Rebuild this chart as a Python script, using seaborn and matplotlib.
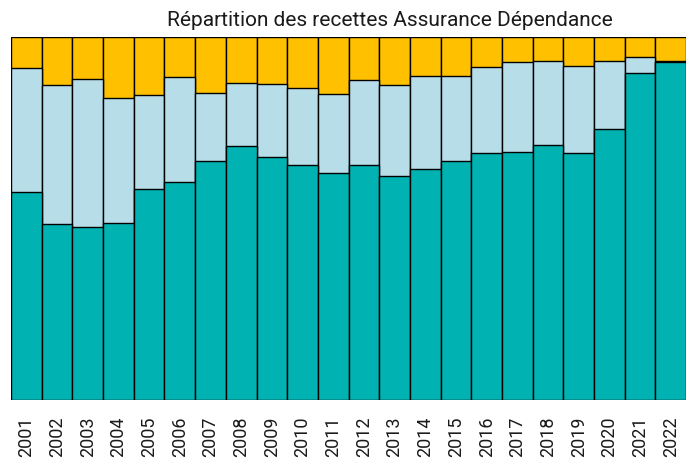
import numpy as np
import pandas as pd
import matplotlib
matplotlib.use("Agg")
import matplotlib.pyplot as plt
import seaborn as sns

years = [str(y) for y in range(2001, 2023)]
# shares in % (bottom / middle / top)
part_teal = [57.4, 48.4, 47.7, 48.8, 58.1, 60.1, 65.8, 70.0, 67.0, 64.8, 62.5,
             64.7, 61.7, 63.8, 65.8, 68.2, 68.3, 70.2, 68.2, 74.7, 90.0, 93.2]
part_blue = [34.0, 38.3, 40.9, 34.3, 26.1, 28.8, 18.9, 17.5, 20.1, 21.2, 21.9,
             23.5, 25.2, 25.6, 23.4, 23.5, 24.8, 23.2, 23.8, 18.7, 4.6, 0.3]
part_orange = [8.6, 13.3, 11.4, 16.9, 15.8, 11.1, 15.3, 12.5, 12.9, 14.0, 15.6,
               11.8, 13.1, 10.6, 10.8, 8.3, 6.9, 6.6, 8.0, 6.6, 5.4, 6.5]

df = pd.DataFrame({"annee": years, "teal": part_teal, "blue": part_blue, "orange": part_orange})
df["cum_blue"] = df["teal"] + df["blue"]
df["cum_orange"] = df["cum_blue"] + df["orange"]

sns.set_style("white")
plt.rcParams["font.family"] = ["Roboto", "DejaVu Sans"]

fig = plt.figure(figsize=(6.93, 4.59), dpi=100)
ax = fig.add_axes([0.016, 0.1285, 0.974, 0.7905])

bar_kw = dict(width=1, edgecolor="black", linewidth=1, saturation=1, ax=ax)
sns.barplot(data=df, x="annee", y="cum_orange", color="#FFC000", **bar_kw)
sns.barplot(data=df, x="annee", y="cum_blue", color="#B7DDE8", **bar_kw)
sns.barplot(data=df, x="annee", y="teal", color="#00B2B2", **bar_kw)

ax.set_ylim(0, 100)
ax.set_xlim(-0.5, len(years) - 0.5)
ax.set_xlabel("")
ax.set_ylabel("")
ax.set_yticks([])
ax.tick_params(axis="x", rotation=90, length=5, width=1, color="#808080",
               labelsize=13, pad=7, labelcolor="#1a1a1a")
for s in ax.spines.values():
    s.set_visible(False)

ax.set_title("Répartition des recettes Assurance Dépendance", fontsize=15,
             x=0.561, pad=8, color="#1a1a1a")

fig.savefig("out.png", dpi=100)
